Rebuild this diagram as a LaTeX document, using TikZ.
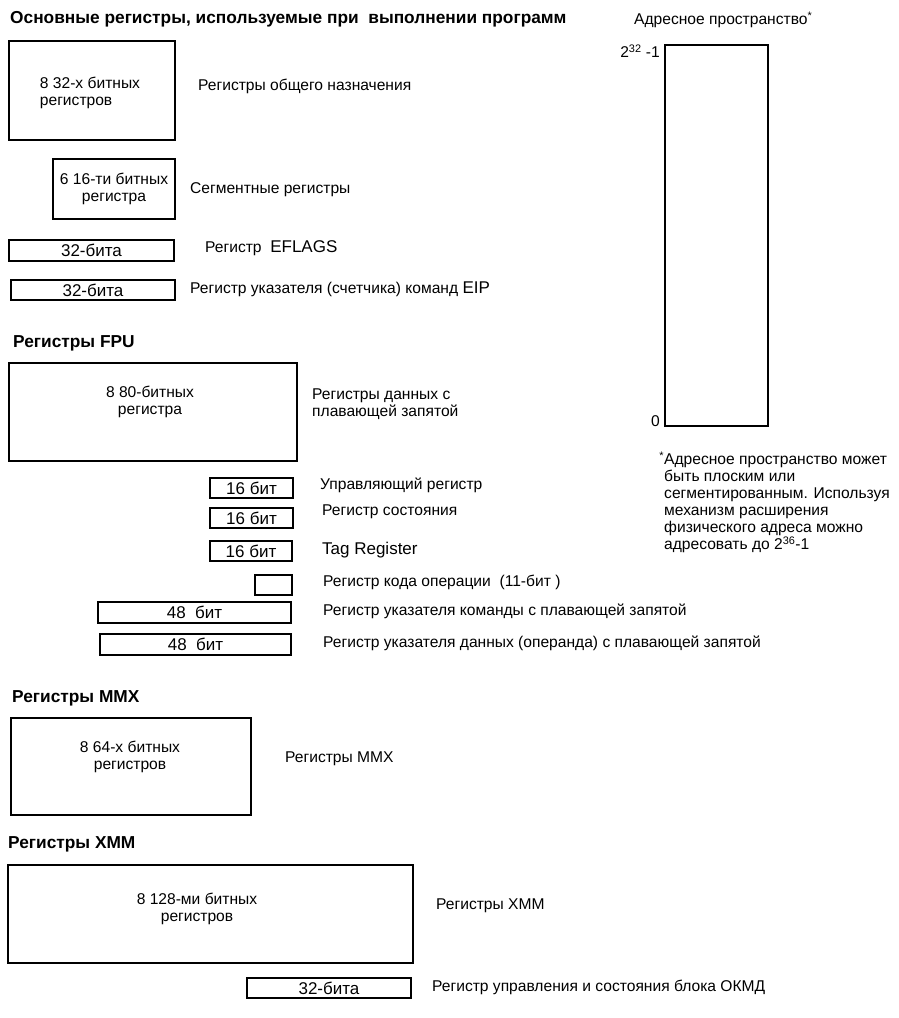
\documentclass[tikz,border=0pt]{standalone}
\usepackage{fontspec}
\setmainfont{Liberation Sans}
\usetikzlibrary{positioning}

\newcommand{\bigtxt}[1]{{\fontsize{17}{17}\selectfont #1}}

\begin{document}
\begin{tikzpicture}[x=1pt, y=-1pt, font=\fontsize{15.6}{17}\selectfont,
    regbox/.style={draw, line width=2pt, anchor=north west, inner sep=0pt, align=center},
    smallbox/.style={regbox, font=\fontsize{17}{17}\selectfont},
    regtext/.style={anchor=west, align=left, inner sep=0pt},
    grouptitle/.style={anchor=west, inner sep=0pt, font=\fontsize{17.3}{19}\selectfont\bfseries}]

  \useasboundingbox (0,0) rectangle (899,1018);

  % --- основные регистры ---
  \node[grouptitle] (tmain) at (10,19) {Основные регистры, используемые при\ \ выполнении программ};
  \node[regbox, minimum width=166pt, minimum height=99pt] (gpr) at (8,40) {};
  \node[align=left, inner sep=0pt] (gprt) at (90,93) {8 32-х битных\\регистров};
  \node[regtext] (gprl) at (198,86) {Регистры общего назначения};

  \node[regbox, minimum width=122pt, minimum height=60pt] (seg) at (52,158) {6 16-ти битных\\регистра};
  \node[regtext] (segl) at (190,190) {Сегментные регистры};

  \node[smallbox, minimum width=165pt, minimum height=21pt] (efl) at (8,239) {32-бита};
  \node[regtext] (efll) at (205,248) {Регистр\ \ \bigtxt{EFLAGS}};

  \node[smallbox, minimum width=164pt, minimum height=20pt] (eip) at (10,279) {32-бита};
  \node[regtext] (eipl) at (190,289) {Регистр указателя (счетчика) команд \bigtxt{EIP}};

  % --- FPU ---
  \node[grouptitle] (tfpu) at (13,343) {Регистры FPU};
  \node[regbox, minimum width=288pt, minimum height=98pt] (fpu) at (8,362) {};
  \node[align=center, inner sep=0pt] (fput) at (150,402) {8 80-битных\\регистра};
  \node[regtext] (fpul) at (312,404) {Регистры данных с\\плавающей запятой};

  \node[smallbox, minimum width=83pt, minimum height=20pt] (fcw) at (209,477) {16 бит};
  \node[regtext] (fcwl) at (320,485) {Управляющий регистр};
  \node[smallbox, minimum width=83pt, minimum height=20pt] (fsw) at (209,507) {16 бит};
  \node[regtext] (fswl) at (322,512) {Регистр состояния};
  \node[smallbox, minimum width=82pt, minimum height=20pt] (ftw) at (209,540) {16 бит};
  \node[regtext, font=\fontsize{17}{17}\selectfont] (ftwl) at (322,550) {Tag Register};
  \node[regbox, minimum width=37pt, minimum height=20pt] (fop) at (254,574) {};
  \node[regtext] (fopl) at (323,582) {Регистр кода операции\ \ (11-бит )};
  \node[smallbox, minimum width=193pt, minimum height=21pt] (fip) at (97,601) {48\ \ бит};
  \node[regtext] (fipl) at (323,611) {Регистр указателя команды с плавающей запятой};
  \node[smallbox, minimum width=191pt, minimum height=21pt] (fdp) at (99,633) {48\ \ бит};
  \node[regtext] (fdpl) at (323,643) {Регистр указателя данных (операнда) с плавающей запятой};

  % --- MMX ---
  \node[grouptitle] (tmmx) at (12,698) {Регистры MMX};
  \node[regbox, minimum width=240pt, minimum height=97pt] (mmx) at (10,717) {};
  \node[align=center, inner sep=0pt] (mmxt) at (130,757) {8 64-х битных\\регистров};
  \node[regtext] (mmxl) at (285,759) {Регистры MMX};

  % --- XMM ---
  \node[grouptitle] (txmm) at (8,844) {Регистры XMM};
  \node[regbox, minimum width=405pt, minimum height=98pt] (xmm) at (7,864) {};
  \node[align=center, inner sep=0pt] (xmmt) at (197,909) {8 128-ми битных\\регистров};
  \node[regtext] (xmml) at (436,906) {Регистры XMM};
  \node[smallbox, minimum width=164pt, minimum height=20pt] (mxcsr) at (246,977) {32-бита};
  \node[regtext] (mxcsrl) at (432,987) {Регистр управления и состояния блока ОКМД};

  % --- адресное пространство ---
  \node[regtext] (taddr) at (634,20) {Адресное пространство\textsuperscript{*}};
  \node[regbox, minimum width=103pt, minimum height=381pt] (addr) at (664,44) {};
  \node[anchor=east, inner sep=0pt] (atop) at ([xshift=-4pt, yshift=-7pt]addr.north west) {2\textsuperscript{32} -1};
  \node[anchor=south east, inner sep=0pt] (abot) at ([xshift=-4pt]addr.south west) {0};
  \node[anchor=north west, align=left, inner sep=0pt] (anote) at (664,452)
    {\llap{\textsuperscript{*}}Адресное пространство может\\быть плоским или\\сегментированным. Используя\\механизм расширения\\физического адреса можно\\адресовать до 2\textsuperscript{36}-1};
\end{tikzpicture}
\end{document}
